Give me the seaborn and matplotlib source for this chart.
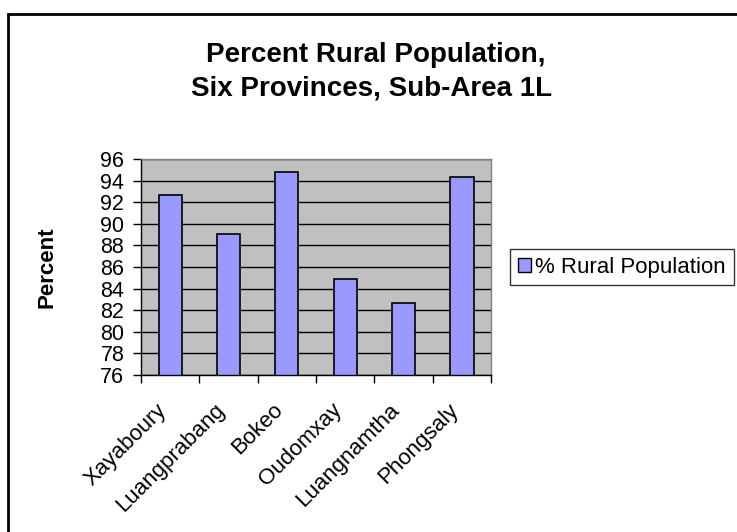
import matplotlib
matplotlib.use("Agg")
import numpy as np
import pandas as pd
import seaborn as sns
from matplotlib import pyplot as plt
from matplotlib.patches import Rectangle
from matplotlib.transforms import ScaledTranslation

provinces = ["Xayaboury", "Luangprabang", "Bokeo", "Oudomxay", "Luangnamtha", "Phongsaly"]
rural_pct = [92.7, 89.1, 94.8, 84.9, 82.7, 94.3]
y_ticks = [76, 78, 80, 82, 84, 86, 88, 90, 92, 94, 96]
series_name = "% Rural Population"

sns.set_style("white")
plt.rcParams["font.family"] = ["Liberation Sans", "DejaVu Sans"]
plt.rcParams["text.color"] = "black"
plt.rcParams["xtick.labelcolor"] = "black"
plt.rcParams["ytick.labelcolor"] = "black"

df = pd.DataFrame({"province": provinces, "pct": rural_pct})

W, H = 737, 532
fig = plt.figure(figsize=(W / 100, H / 100), dpi=100)
ax = fig.add_axes([141 / W, 1 - 375 / H, 350 / W, 216 / H])
ax.set_facecolor("#C0C0C0")

sns.barplot(data=df, x="province", y="pct", color="#9999FF", width=0.4,
            edgecolor="black", linewidth=1.2, saturation=1, ax=ax)
# bars need to start from the axis bottom, not from 0
ax.set_ylim(y_ticks[0], y_ticks[-1])
ax.set_xlim(-0.5, len(provinces) - 0.5)

ax.set_yticks(y_ticks)
ax.set_yticklabels([str(t) for t in y_ticks], fontsize=15.5, color="black")
ax.yaxis.grid(True, color="black", linewidth=1)
ax.set_axisbelow(True)
ax.tick_params(axis="y", direction="out", length=6, width=1, color="black", pad=6, left=True)

ax.set_xticks(range(len(provinces)))
ax.set_xticklabels(provinces, fontsize=16, rotation=45, ha="right", va="center",
                   rotation_mode="anchor", color="black")
ax.tick_params(axis="x", length=0, pad=23)
shift = ScaledTranslation(-7 / 100, 0, fig.dpi_scale_trans)
for lbl in ax.get_xticklabels():
    lbl.set_transform(lbl.get_transform() + shift)
ax.set_xticks(np.arange(-0.5, len(provinces)), minor=True)
ax.tick_params(axis="x", which="minor", direction="out", length=6, width=1, color="black", bottom=True)

ax.set_xlabel("")
ax.set_ylabel("")
for side in ["left", "bottom"]:
    ax.spines[side].set_color("black")
    ax.spines[side].set_linewidth(1)
for side in ["top", "right"]:
    ax.spines[side].set_color("#808080")
    ax.spines[side].set_linewidth(1)

fig.text(46.7 / W, 1 - 267 / H, "Percent", rotation=90, ha="center", va="center",
         fontsize=16, fontweight="bold", color="black")
fig.text(376 / W, 1 - 61.7 / H, "Percent Rural Population,", ha="center", va="baseline",
         fontsize=20, fontweight="bold", color="black")
fig.text(372 / W, 1 - 95 / H, "Six Provinces, Sub-Area 1L", ha="center", va="baseline",
         fontsize=20, fontweight="bold", color="black")

handle = Rectangle((0, 0), 1, 1, facecolor="#9999FF", edgecolor="black", linewidth=1)
leg = fig.legend([handle], [series_name], loc="upper left",
                 bbox_to_anchor=(510 / W, 1 - 249 / H), fontsize=16, frameon=True,
                 fancybox=False, handlelength=0.6, handleheight=0.6, handletextpad=0.2,
                 borderpad=0.34, borderaxespad=0, labelcolor="black")
leg.get_frame().set_edgecolor("black")
leg.get_frame().set_linewidth(1)

# outer chart border (right and bottom run past the picture)
fig.patches.append(Rectangle((8 / W, -0.1), 1.2, 0.1 + 1 - 14 / H, transform=fig.transFigure,
                             fill=False, edgecolor="black", linewidth=2))

fig.savefig("out.png", dpi=100)
